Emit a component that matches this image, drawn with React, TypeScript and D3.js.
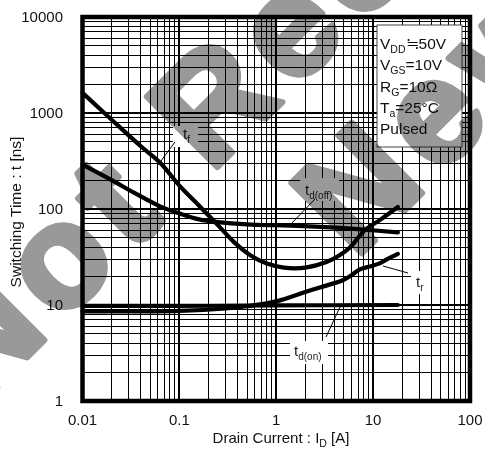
import React from "react";
import * as d3 from "d3";

const W = 485;
const H = 459;

const xTickValues = [0.01, 0.1, 1, 10, 100];
const xTickLabels = ["0.01", "0.1", "1", "10", "100"];
const yTickValues = [1, 10, 100, 1000, 10000];
const yTickLabels = ["1", "10", "100", "1000", "10000"];
const minorSteps = [2, 3, 4, 5, 6, 7, 8, 9];

// Drain current [A]
const tfCurrent = [0.01, 0.02, 0.04, 0.064, 0.1, 0.16, 0.25, 0.36, 0.54, 0.8, 1.2, 2, 3.3, 4.5, 5.8, 8.2, 12, 18];
const tfTime = [1620, 850, 450, 300, 175, 108, 68, 46, 33, 27, 24.5, 24.5, 28, 33, 40, 60, 78, 105];

const tdoffCurrent = [0.01, 0.02, 0.034, 0.064, 0.1, 0.16, 0.25, 0.5, 1.4, 4, 8, 18];
const tdoffTime = [290, 200, 148, 106, 90, 78, 73, 69, 67, 64, 61, 57];

const trCurrent = [0.01, 0.1, 0.3, 0.5, 1.0, 2.1, 3.6, 4.8, 5.8, 7.3, 9, 11.5, 14, 18];
const trTime = [8.6, 8.7, 9.2, 9.7, 10.9, 13.9, 16.4, 18, 20, 23.5, 25, 27, 30, 34];

const tdonCurrent = [0.01, 0.1, 1, 18];
const tdonTime = [9.8, 9.8, 9.9, 10];

const conditionMain = ["V", "V", "R", "T", "Pulsed"];
const conditionSub = ["DD", "GS", "G", "a", ""];
const conditionRest = ["≒50V", "=10V", "=10Ω", "=25°C", ""];

const watermarkLines = ["Not Recommended for", "New Designs"];

const FONT = "'Liberation Sans', Arial, Helvetica, sans-serif";

export default function App() {
  const left = 82.5, right = 470, top = 17, bottom = 401;
  const x = d3.scaleLog().domain([0.01, 100]).range([left, right]);
  const y = d3.scaleLog().domain([1, 10000]).range([bottom, top]);

  const minorX: number[] = [];
  for (let i = 0; i < xTickValues.length - 1; i++)
    for (const m of minorSteps) minorX.push(xTickValues[i] * m);
  const minorY: number[] = [];
  for (let i = 0; i < yTickValues.length - 1; i++)
    for (const m of minorSteps) minorY.push(yTickValues[i] * m);

  const line = d3
    .line<[number, number]>()
    .x((d) => x(d[0]))
    .y((d) => y(d[1]))
    .curve(d3.curveCatmullRom.alpha(0.5));

  const mk = (a: number[], b: number[]) => a.map((v, i) => [v, b[i]] as [number, number]);
  const series = [mk(tfCurrent, tfTime), mk(tdoffCurrent, tdoffTime), mk(trCurrent, trTime), mk(tdonCurrent, tdonTime)];

  const labels = [
    { main: "t", sub: "f", tx: 183, ty: 139, bg: [173, 126, 25, 21], lead: [175, 142, 158, 165] },
    { main: "t", sub: "d(off)", tx: 305, ty: 195, bg: [300, 178, 39, 23], lead: [315, 199, 291, 224] },
    { main: "t", sub: "r", tx: 416, ty: 287, bg: [411, 271, 20, 23], lead: [408, 273, 383, 266] },
    { main: "t", sub: "d(on)", tx: 294, ty: 356, bg: [290, 341, 38, 23], lead: [326, 337, 340, 307] },
  ];

  const wmPos = [
    [-304, 272],
    [67, 435],
  ];

  return (
    <svg
      width={W}
      height={H}
      style={{ position: "absolute", left: 0, top: 0, background: "#fff" }}
      fontFamily={FONT}
    >
      <rect x={0} y={0} width={W} height={H} fill="#fff" />
      <g shapeRendering="crispEdges">
        {minorX.map((v, i) => (
          <line key={"mx" + i} x1={x(v)} x2={x(v)} y1={top} y2={bottom} stroke="#000" strokeWidth={1} />
        ))}
        {minorY.map((v, i) => (
          <line key={"my" + i} x1={left} x2={right} y1={y(v)} y2={y(v)} stroke="#000" strokeWidth={1} />
        ))}
        {xTickValues.map((v, i) => (
          <line key={"Mx" + i} x1={x(v)} x2={x(v)} y1={top} y2={bottom} stroke="#000" strokeWidth={2} />
        ))}
        {yTickValues.map((v, i) => (
          <line key={"My" + i} x1={left} x2={right} y1={y(v)} y2={y(v)} stroke="#000" strokeWidth={2} />
        ))}
      </g>
      {series.map((s, i) => (
        <path key={"s" + i} d={line(s) || ""} fill="none" stroke="#000" strokeWidth={4.2} strokeLinecap="round" />
      ))}
      {labels.map((l, i) => (
        <g key={"l" + i}>
          <rect x={l.bg[0]} y={l.bg[1]} width={l.bg[2]} height={l.bg[3]} fill="#fff" />
          <line x1={l.lead[0]} y1={l.lead[1]} x2={l.lead[2]} y2={l.lead[3]} stroke="#000" strokeWidth={1} />
          <text x={l.tx} y={l.ty} fontSize={15} fill="#222">
            {l.main}
            <tspan fontSize={10} dy={4}>{l.sub}</tspan>
          </text>
        </g>
      ))}
      <rect x={377} y={25} width={85} height={122} fill="#fff" stroke="#444" strokeWidth={1} />
      {conditionMain.map((m, i) => (
        <text key={"c" + i} x={380} y={49 + i * 21.3} fontSize={15.5} fill="#111">
          {m}
          {conditionSub[i] ? (
            <tspan fontSize={10.5} dy={4}>{conditionSub[i]}</tspan>
          ) : null}
          {conditionRest[i] ? (
            <tspan fontSize={15.5} dy={conditionSub[i] ? -4 : 0}>{conditionRest[i]}</tspan>
          ) : null}
        </text>
      ))}
      <rect x={left} y={top} width={right - left} height={bottom - top} fill="none" stroke="#000" strokeWidth={4.5} />
      {yTickValues.map((v, i) => (
        <text key={"yt" + i} x={63} y={y(v) + 5} fontSize={15} textAnchor="end" fill="#111">
          {yTickLabels[i]}
        </text>
      ))}
      {xTickValues.map((v, i) => (
        <text key={"xt" + i} x={x(v)} y={425} fontSize={15} textAnchor="middle" fill="#111">
          {xTickLabels[i]}
        </text>
      ))}
      <text x={281} y={443} fontSize={15} textAnchor="middle" fill="#111">
        Drain Current : I<tspan fontSize={10.5} dy={4}>D</tspan>
        <tspan dy={-4}> [A]</tspan>
      </text>
      <text transform="translate(21,212) rotate(-90)" fontSize={15.5} textAnchor="middle" fill="#111">
        Switching Time : t [ns]
      </text>
      <g transform="rotate(-45)" style={{ mixBlendMode: "multiply" }}>
        {watermarkLines.map((t, i) => (
          <text
            key={"wm" + i}
            x={wmPos[i][0]}
            y={wmPos[i][1]}
            fontSize={145}
            fontWeight="bold"
            letterSpacing={12}
            textAnchor="start"
            fill="#999"
            stroke="#999"
            strokeWidth={6}
            strokeLinejoin="round"
          >
            {t}
          </text>
        ))}
      </g>
    </svg>
  );
}
